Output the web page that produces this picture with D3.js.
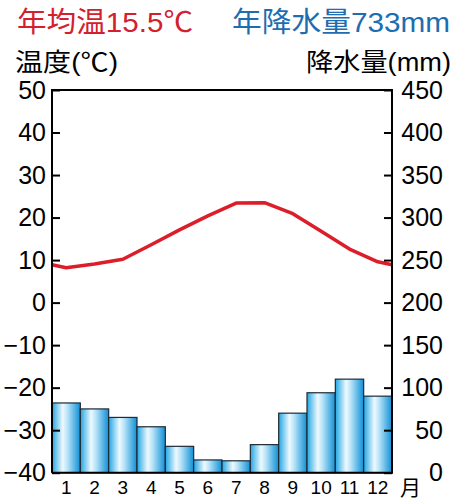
<!DOCTYPE html>
<html>
<head>
<meta charset="utf-8">
<script src="https://cdn.jsdelivr.net/npm/d3@7"></script>
<style>
  body { margin: 0; background: #fff; }
  svg text { font-family: "Liberation Sans", "Noto Sans CJK JP", sans-serif; }
</style>
</head>
<body>
<div id="container"></div>
<script>
const months = ['1','2','3','4','5','6','7','8','9','10','11','12'];
const temps = [8.2, 9.1, 10.2, 13.6, 17.1, 20.4, 23.4, 23.5, 20.9, 16.8, 12.6, 9.6];
const precip = [82, 75, 65, 54, 31, 15, 14, 33, 70, 94, 110, 90];
const tempTicks = [50, 40, 30, 20, 10, 0, -10, -20, -30, -40];
const precipTicks = [450, 400, 350, 300, 250, 200, 150, 100, 50, 0];
const titleTemp = '年均温15.5℃';
const titlePrecip = '年降水量733mm';

const w = 453, h = 499;
const padLeft = 52, padRight = 392, padTop = 90, padBottom = 472.7;

const svg = d3.select('#container').append('svg')
  .attr('width', w).attr('height', h);

// gradient for the bars
const grad = svg.append('defs').append('linearGradient')
  .attr('id', 'barGrad').attr('x1', '0%').attr('x2', '100%');
grad.append('stop').attr('offset', '0%').attr('stop-color', '#22a6e4');
grad.append('stop').attr('offset', '38%').attr('stop-color', '#eef9fe');
grad.append('stop').attr('offset', '55%').attr('stop-color', '#b6e3f8');
grad.append('stop').attr('offset', '100%').attr('stop-color', '#0f8fd6');

const x = d3.scaleBand().domain(months).range([padLeft, padRight]).padding(0);
const yT = d3.scaleLinear().domain([-40, 50]).range([padBottom, padTop]);
const yP = d3.scaleLinear().domain([0, 450]).range([padBottom, padTop]);

// bars
svg.selectAll('rect.bar')
  .data(precip)
  .enter().append('rect')
  .attr('class', 'bar')
  .attr('x', (d, i) => x(months[i]))
  .attr('y', d => yP(d))
  .attr('width', x.bandwidth())
  .attr('height', d => padBottom - yP(d))
  .attr('fill', 'url(#barGrad)')
  .attr('stroke', '#1f2a33')
  .attr('stroke-width', 1.2);

// temperature line, closed off at the frame edges with Dec/Jan mean
const edge = (temps[0] + temps[11]) / 2;
const pts = [[padLeft, edge]]
  .concat(temps.map((t, i) => [x(months[i]) + x.bandwidth() / 2, t]))
  .concat([[padRight, edge]]);
svg.append('path')
  .datum(pts)
  .attr('fill', 'none')
  .attr('stroke', '#dc1e2a')
  .attr('stroke-width', 3.5)
  .attr('stroke-linejoin', 'round')
  .attr('d', d3.line().x(d => d[0]).y(d => yT(d[1])));

// axes
const leftAxis = d3.axisLeft(yT).tickValues(tempTicks).tickSize(-8).tickPadding(14);
const rightAxis = d3.axisRight(yP).tickValues(precipTicks).tickSize(-8).tickPadding(14);

const gl = svg.append('g').attr('transform', 'translate(' + padLeft + ',0)').call(leftAxis);
const gr = svg.append('g').attr('transform', 'translate(' + padRight + ',0)').call(rightAxis);
[gl, gr].forEach(g => {
  g.select('.domain').remove();
  g.selectAll('line').attr('stroke', '#000').attr('stroke-width', 2);
  g.selectAll('text').attr('font-size', 25).attr('fill', '#000')
    .text(d => d < 0 ? '\u2212' + Math.abs(d) : d);
});
gl.selectAll('text').attr('x', -6).attr('text-anchor', 'end');
gr.selectAll('text').attr('x', 51).attr('text-anchor', 'end');

// frame: top, left, right
svg.append('path')
  .attr('d', 'M' + padLeft + ',' + padBottom + 'V' + padTop + 'H' + padRight + 'V' + padBottom + 'H' + padLeft)
  .attr('fill', 'none').attr('stroke', '#000').attr('stroke-width', 2);

// month labels
const bx = d3.axisBottom(x).tickSize(0).tickPadding(8);
const gb = svg.append('g').attr('transform', 'translate(0,' + padBottom + ')').call(bx);
gb.select('.domain').remove();
gb.selectAll('text').attr('font-size', 19).attr('fill', '#000');
svg.append('text').attr('x', 400).attr('y', 495)
  .attr('font-size', 21).text('月');

// titles
svg.append('text').attr('x', 17).attr('y', 32)
  .attr('font-size', 28).attr('fill', '#d4202c')
  .attr('textLength', 176).attr('lengthAdjust', 'spacingAndGlyphs').text(titleTemp);
svg.append('text').attr('x', 232).attr('y', 32)
  .attr('font-size', 28).attr('fill', '#1d6db0')
  .attr('textLength', 218).attr('lengthAdjust', 'spacingAndGlyphs').text(titlePrecip);
svg.append('text').attr('x', 15).attr('y', 71)
  .attr('font-size', 25).attr('fill', '#000')
  .attr('textLength', 103).attr('lengthAdjust', 'spacingAndGlyphs').text('温度(℃)');
svg.append('text').attr('x', 306).attr('y', 71)
  .attr('font-size', 25).attr('fill', '#000')
  .attr('textLength', 145).attr('lengthAdjust', 'spacingAndGlyphs').text('降水量(mm)');
</script>
</body>
</html>
